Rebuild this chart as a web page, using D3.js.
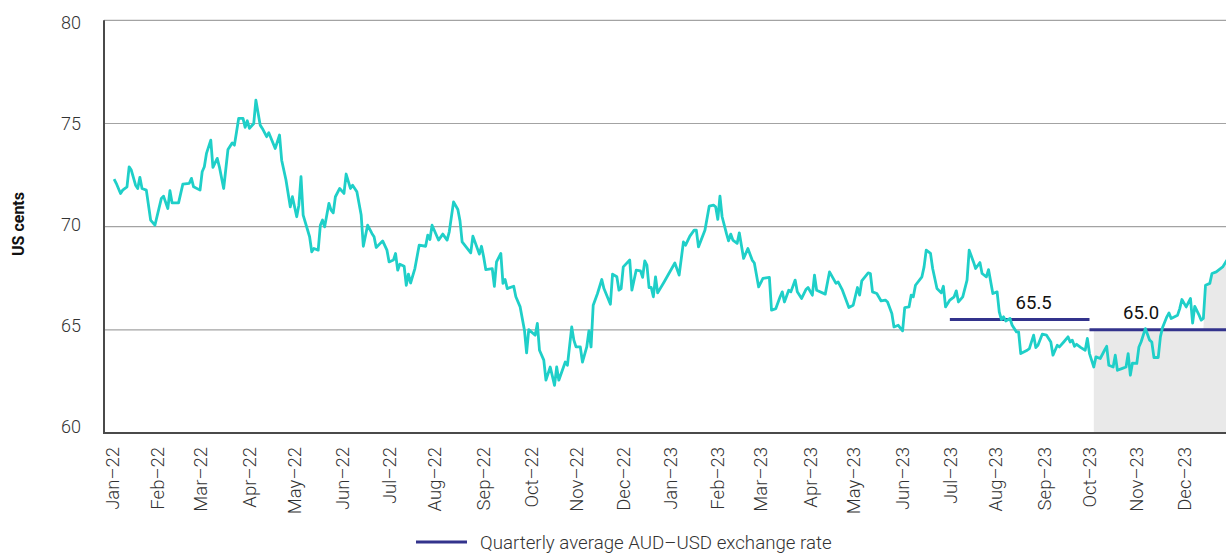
<!DOCTYPE html>
<html>
<head>
<meta charset="utf-8">
<script src="https://cdn.jsdelivr.net/npm/d3@7"></script>
<style>
  body { margin: 0; background: #fff; }
  svg { display: block; font-family: Roboto, "Noto Sans", sans-serif; }
</style>
</head>
<body>
<svg id="chart" width="1226" height="554"></svg>
<script>
// AUD-USD daily rate (US cents), [month-day, value]
let rate2022 = [
  ["01-04",72.3],["01-05",72.1],["01-07",71.61],["01-10",71.77],["01-12",71.93],["01-13",72.9],
  ["01-14",72.74],["01-18",72.01],["01-19",71.85],["01-20",72.39],["01-21",71.85],["01-25",71.77],
  ["01-27",70.32],["01-31",70.07],["02-03",71.37],["02-04",71.48],["02-08",70.88],["02-09",71.74],
  ["02-10",71.15],["02-15",71.15],["02-17",72.06],["02-22",72.1],["02-23",72.34],["02-24",71.93],
  ["03-01",71.77],["03-02",72.66],["03-03",72.9],["03-04",73.55],["03-08",74.19],["03-09",72.87],
  ["03-11",73.31],["03-14",72.9],["03-16",71.85],["03-18",73.74],["03-22",74.06],["03-23",73.95],
  ["03-24",74.6],["03-25",75.25],["03-29",75.25],["03-30",74.81],["03-31",75.13],["04-01",74.76],
  ["04-05",75.0],["04-06",76.13],["04-08",74.92],["04-11",74.76],["04-13",74.36],["04-14",74.55],
  ["04-19",73.79],["04-21",74.44],["04-22",73.22],["04-26",72.26],["04-28",70.96],["04-29",71.45],
  ["05-03",70.48],["05-04",71.04],["05-05",72.42],["05-06",70.56],["05-11",69.51],["05-12",68.78],
  ["05-13",68.94],["05-17",68.86],["05-18",70.07],["05-19",70.32],["05-20",69.99],["05-24",71.13],
  ["05-25",70.8],["05-26",70.67],["05-27",71.45],["05-31",71.85],["06-02",71.61],["06-03",72.55],
  ["06-07",71.85],["06-08",72.01],["06-10",71.69],["06-14",70.56],["06-15",69.05],["06-17",70.07],
  ["06-21",69.67],["06-22",69.51],["06-23",68.99],["06-28",69.31],["06-30",68.86],["07-01",68.29],
  ["07-05",68.38],["07-06",68.7],["07-07",67.89],["07-08",68.18],["07-12",68.08],["07-13",67.16],
  ["07-14",67.7],["07-15",67.27],["07-19",67.97],["07-21",69.1],["07-26",69.05],["07-27",69.59],
  ["07-28",69.38],["07-29",70.07],["08-03",69.35],["08-05",69.64],["08-09",69.35],["08-10",69.75],
  ["08-12",71.2],["08-16",70.83],["08-17",70.28],["08-18",69.26],["08-24",68.73],["08-25",69.54],
  ["08-30",68.67],["08-31",69.05],["09-01",68.54],["09-02",67.92],["09-07",67.97],["09-08",67.11],
  ["09-09",68.29],["09-13",68.7],["09-14",67.25],["09-15",67.44],["09-16",67.0],["09-21",67.11],
  ["09-22",66.6],["09-26",66.11],["09-28",64.98],["09-29",63.88],["09-30",65.01],["10-05",64.74],
  ["10-06",65.31],["10-07",64.01],["10-11",63.53],["10-12",62.56],["10-14",63.2],["10-18",62.31],
  ["10-19",63.2],["10-20",62.56],["10-25",63.44],["10-26",63.28],["10-28",65.14],["10-31",64.5],
  ["11-01",64.17],["11-03",64.17],["11-04",63.44],["11-08",64.17],["11-09",64.95],["11-10",64.17],
  ["11-11",66.19],["11-15",66.76],["11-17",67.44],["11-18",67.0],["11-23",66.24],["11-24",67.7],
  ["11-28",67.57],["11-29",66.92],["11-30",67.0],["12-01",68.05],["12-06",68.38],["12-07",66.92],
  ["12-09",67.89],["12-13",67.86],["12-14",67.54],["12-15",68.34],["12-16",68.13],["12-19",67.05],
  ["12-20",67.05],["12-21",66.6],["12-22",67.57],["12-23",66.79],["12-28",67.32]
];

let rate2023 = [
  ["01-04",68.24],["01-06",67.65],["01-10",69.26],["01-11",69.1],["01-13",69.54],["01-17",69.83],
  ["01-18",69.83],["01-19",69.02],["01-24",69.83],["01-26",70.99],["01-30",71.04],["01-31",70.96],
  ["02-01",70.35],["02-02",71.48],["02-03",70.48],["02-07",69.67],["02-08",69.31],["02-09",69.64],
  ["02-10",69.35],["02-14",69.19],["02-15",69.7],["02-17",68.46],["02-21",68.94],["02-23",68.38],
  ["02-24",68.24],["02-28",67.08],["03-02",67.49],["03-07",67.54],["03-08",65.95],["03-10",66.03],
  ["03-14",66.6],["03-15",66.84],["03-16",66.35],["03-20",66.92],["03-21",66.84],["03-23",67.41],
  ["03-24",66.84],["03-28",66.52],["03-30",66.95],["03-31",67.05],["04-04",66.68],["04-05",67.65],
  ["04-06",66.92],["04-12",66.73],["04-14",67.81],["04-19",67.25],["04-20",67.32],["04-24",66.92],
  ["04-27",66.08],["05-01",66.19],["05-03",67.05],["05-04",66.68],["05-05",67.37],["05-10",67.76],
  ["05-11",67.73],["05-12",66.84],["05-16",66.76],["05-18",66.4],["05-22",66.44],["05-23",66.35],
  ["05-25",65.79],["05-26",65.14],["05-30",65.22],["06-01",64.95],["06-02",66.08],["06-06",66.11],
  ["06-07",66.68],["06-08",66.6],["06-09",67.16],["06-14",67.57],["06-15",68.05],["06-16",68.86],
  ["06-20",68.7],["06-21",67.97],["06-23",67.0],["06-27",66.79],["06-28",67.11],["06-29",66.11],
  ["07-03",66.44],["07-05",66.6],["07-06",66.89],["07-07",66.35],["07-11",66.6],["07-13",67.41],
  ["07-14",68.86],["07-18",68.29],["07-19",67.97],["07-21",68.26],["07-24",67.73],["07-26",67.57],
  ["07-27",67.92],["07-31",66.76],["08-02",66.84],["08-03",65.87],["08-04",65.5],["08-07",65.63],
  ["08-08",65.43],["08-10",65.55],["08-11",65.22],["08-15",64.9],["08-16",64.9],["08-17",63.85],
  ["08-22",64.01],["08-23",64.09],["08-25",64.74],["08-28",64.14],["08-29",64.25],["08-31",64.79],
  ["09-04",64.74],["09-06",64.41],["09-07",63.77],["09-11",64.25],["09-12",64.17],["09-14",64.41],
  ["09-18",64.66],["09-19",64.41],["09-20",64.5],["09-21",64.2],["09-22",64.3],["09-26",64.14],
  ["09-28",64.01],["09-29",64.58],["10-02",63.85],["10-04",63.2],["10-05",63.69],["10-09",63.61],
  ["10-11",64.01],["10-12",64.2],["10-13",63.28],["10-17",63.2],["10-18",63.77],["10-19",63.04],
  ["10-23",63.12],["10-25",63.2],["10-26",63.85],["10-27",62.8],["10-30",63.39],["11-01",63.37],
  ["11-02",64.17],["11-03",64.41],["11-07",65.06],["11-09",64.5],["11-10",64.41],["11-13",63.66],
  ["11-15",63.66],["11-16",64.66],["11-17",65.11],["11-21",65.63],["11-22",65.82],["11-23",65.55],
  ["11-28",65.71],["11-29",66.03],["11-30",66.47],["12-04",66.11],["12-06",66.52],["12-07",65.33],
  ["12-08",66.14],["12-12",65.71],["12-13",65.47],["12-14",65.55],["12-15",67.16],["12-19",67.25],
  ["12-20",67.73],["12-22",67.81],["12-27",68.05],["12-29",68.38]
];

// quarterly averages
let quarterStarts = ["2023-07-03", "2023-10-02"];
let quarterEnds = ["2023-10-02", "2023-12-29"];
let quarterAverages = [65.5, 65.0];
let quarterLabels = ["65.5", "65.0"];
let quarterLabelDates = ["2023-08-25", "2023-11-03"];

// grey shaded period
let shadeFrom = "2023-10-04";
let shadeRiseFrom = "2023-12-15";
let shadeFloor = 65;

let yTicks = [60, 65, 70, 75, 80];
let yTitle = "US cents";
let legendLabel = "Quarterly average AUD\u2013USD exchange rate";

let width = 1226;
let height = 554;
let svg = d3.select('#chart');
let parse = d3.timeParse('%Y-%m-%d');
let firstDay = new Date(2022, 0, 3);

// position on the axis = number of trading (week) days since the first one
let tradingIndex = date => d3.timeDay.range(firstDay, date).filter(d => d.getDay() % 6 !== 0).length;

let rates = rate2022.map(d => ({ date: parse('2022-' + d[0]), value: d[1] }))
  .concat(rate2023.map(d => ({ date: parse('2023-' + d[0]), value: d[1] })));
rates.forEach(d => { d.idx = tradingIndex(d.date); });

let x = d3.scaleLinear().domain([-3.7, 519]).range([104, 1227]);
let y = d3.scaleLinear().domain([60, 80]).range([433, 20.3]);
let yLabel = d3.scaleLinear().domain([60, 80]).range([427, 22.7]);

// shaded area
let shadeData = rates.filter(d => d.date >= parse(shadeFrom)).map(d => ({
  idx: d.idx,
  top: d.date >= parse(shadeRiseFrom) ? d.value : shadeFloor
}));
shadeData.unshift({ idx: tradingIndex(parse(shadeFrom)), top: shadeFloor });

svg.append('path')
  .datum(shadeData)
  .attr('fill', '#e9e9e9')
  .attr('d', d3.area().x(d => x(d.idx)).y0(y(60)).y1(d => y(d.top)));

// grid
svg.append('g').selectAll('line')
  .data(yTicks.filter(t => t > 60))
  .enter()
  .append('line')
  .attr('x1', x.range()[0]).attr('x2', width)
  .attr('y1', d => y(d)).attr('y2', d => y(d))
  .attr('stroke', '#a3a3a3')
  .attr('stroke-width', 1.2);

// axes lines
svg.append('line')
  .attr('x1', x.range()[0]).attr('x2', x.range()[0])
  .attr('y1', y(60)).attr('y2', y(80))
  .attr('stroke', '#4a4a4a').attr('stroke-width', 2);
svg.append('line')
  .attr('x1', x.range()[0] - 1).attr('x2', width)
  .attr('y1', y(60)).attr('y2', y(60))
  .attr('stroke', '#4a4a4a').attr('stroke-width', 2);

// y labels
svg.append('g').selectAll('text')
  .data(yTicks)
  .enter()
  .append('text')
  .attr('x', 81)
  .attr('y', d => yLabel(d))
  .attr('dy', '0.36em')
  .attr('text-anchor', 'end')
  .attr('font-size', 18)
  .attr('font-weight', 300)
  .attr('fill', '#333')
  .text(d => d);

svg.append('text')
  .attr('transform', 'translate(24,224) rotate(-90)')
  .attr('text-anchor', 'middle')
  .attr('font-size', 16)
  .attr('font-weight', 700)
  .attr('fill', '#111')
  .text(yTitle);

// x labels, one per month
let months = d3.timeMonth.range(new Date(2022, 0, 1), new Date(2024, 0, 1));
let fmt = d3.timeFormat('%b-%y');
svg.append('g').selectAll('text')
  .data(months)
  .enter()
  .append('text')
  .attr('transform', d => 'translate(' + x(tradingIndex(d)) + ',447) rotate(-90)')
  .attr('dy', '0.36em')
  .attr('text-anchor', 'end')
  .attr('font-size', 18.5)
  .attr('font-weight', 300)
  .attr('fill', '#333')
  .text(d => fmt(d).replace('-', '\u2013'));

// quarterly averages
svg.append('g').selectAll('line')
  .data(quarterAverages)
  .enter()
  .append('line')
  .attr('x1', (d, i) => x(tradingIndex(parse(quarterStarts[i]))))
  .attr('x2', (d, i) => x(tradingIndex(parse(quarterEnds[i]))))
  .attr('y1', d => y(d)).attr('y2', d => y(d))
  .attr('stroke', '#33338c')
  .attr('stroke-width', 3);

svg.append('g').selectAll('text')
  .data(quarterAverages)
  .enter()
  .append('text')
  .attr('x', (d, i) => x(tradingIndex(parse(quarterLabelDates[i]))))
  .attr('y', d => y(d) - 11)
  .attr('text-anchor', 'middle')
  .attr('font-size', 18.5)
  .attr('fill', '#111')
  .text((d, i) => quarterLabels[i]);

// exchange rate line
svg.append('path')
  .datum(rates)
  .attr('fill', 'none')
  .attr('stroke', '#1fcfc8')
  .attr('stroke-width', 2.8)
  .attr('stroke-linejoin', 'round')
  .attr('d', d3.line().x(d => x(d.idx)).y(d => y(d.value)));

// legend
let legend = svg.append('g').attr('transform', 'translate(416,542)');
legend.append('line')
  .attr('x1', 0).attr('x2', 51)
  .attr('stroke', '#33338c').attr('stroke-width', 3);
legend.append('text')
  .attr('x', 64)
  .attr('dy', '0.36em')
  .attr('font-size', 18.7)
  .attr('font-weight', 300)
  .attr('fill', '#333')
  .text(legendLabel);
</script>
</body>
</html>
